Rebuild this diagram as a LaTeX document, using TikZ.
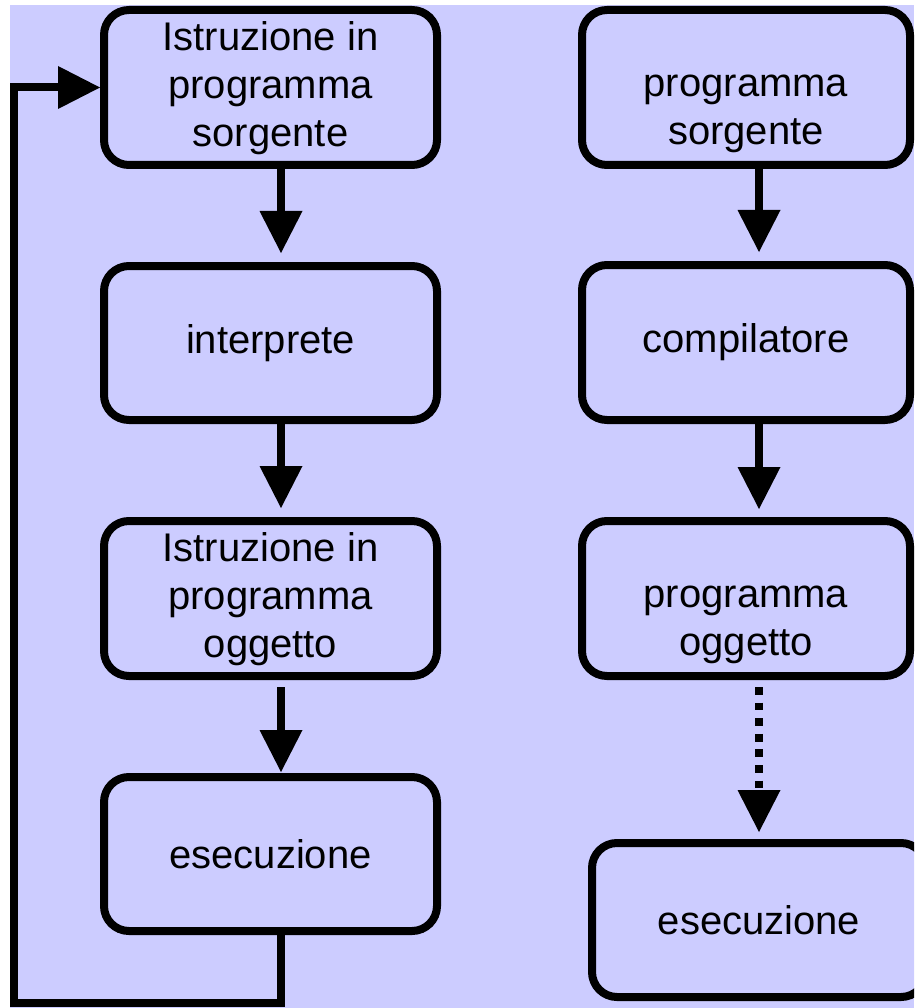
\documentclass[tikz,border=0pt]{standalone}
\usepackage{fontspec}
\setmainfont{Liberation Sans}
\usetikzlibrary{arrows.meta}
\definecolor{bg}{HTML}{CCCCFF}
\tikzset{
  box/.style={draw=black, line width=8pt, fill=bg, rounded corners=25pt,
    outer sep=0pt, inner sep=0pt, anchor=north west},
  txt/.style={align=center, inner sep=0pt, outer sep=0pt,
    font=\fontsize{40}{48}\selectfont, text=black},
  flow/.style={line width=8pt, line join=miter,
    -{Triangle[length=42pt,width=43pt,line width=0pt]}},
  dotflow/.style={flow, dash pattern=on 7.8pt off 7.8pt}
}
\begin{document}
\begin{tikzpicture}[x=1pt,y=-1pt]
\useasboundingbox (0,0) rectangle (914,1008);
\clip (0,0) rectangle (914,1008);
\fill[bg] (10,5) rectangle (914,1008);
% left column
\node[box, minimum width=333pt, minimum height=155pt] (l1) at (104,10) {};
\node[box, minimum width=333pt, minimum height=154pt] (l2) at (104,266) {};
\node[box, minimum width=333pt, minimum height=155pt] (l3) at (104,521) {};
\node[box, minimum width=333pt, minimum height=154pt] (l4) at (104,777) {};
% right column
\node[box, minimum width=328pt, minimum height=155pt] (r1) at (582,10) {};
\node[box, minimum width=328pt, minimum height=155pt] (r2) at (582,265) {};
\node[box, minimum width=328pt, minimum height=155pt] (r3) at (582,521) {};
\node[box, minimum width=334pt, minimum height=154pt] (r4) at (592,843) {};
% texts
\node[txt] (l1t) at ([yshift=-1pt]l1.center) {Istruzione in\\programma\\sorgente};
\node[txt] (l2t) at (l2.center) {interprete};
\node[txt] (l3t) at ([yshift=-1pt]l3.center) {Istruzione in\\programma\\oggetto};
\node[txt] (l4t) at (l4.center) {esecuzione};
\node[txt] (r1t) at ([yshift=-26pt]r1.center) {programma\\sorgente};
\node[txt] (r2t) at (r2.center) {compilatore};
\node[txt] (r3t) at ([yshift=-26pt]r3.center) {programma\\oggetto};
\node[txt] (r4t) at (r4.center) {esecuzione};
% connectors
\draw[flow, shorten >=13pt] ([xshift=10.5pt]l1.south) -- ([xshift=10.5pt]l2.north);
\draw[flow, shorten >=13pt] ([xshift=10.5pt]l2.south) -- ([xshift=10.5pt]l3.north);
\draw[flow, shorten <=11pt, shorten >=5pt] ([xshift=10.5pt]l3.south) -- ([xshift=10.5pt]l4.north);
\draw[flow, shorten >=13pt] ([xshift=13pt]r1.south) -- ([xshift=13pt]r2.north);
\draw[flow, shorten >=12pt] ([xshift=13pt]r2.south) -- ([xshift=13pt]r3.north);
\draw[dotflow, shorten <=11pt, shorten >=11pt] ([xshift=13pt]r3.south) -- ([xshift=13pt]r3.south |- r4.north);
\coordinate (lb) at (13.5,1002.5);
\draw[flow, shorten >=4pt] ([xshift=10.5pt]l4.south) |- (lb) |- (l1.west);
\end{tikzpicture}
\end{document}
